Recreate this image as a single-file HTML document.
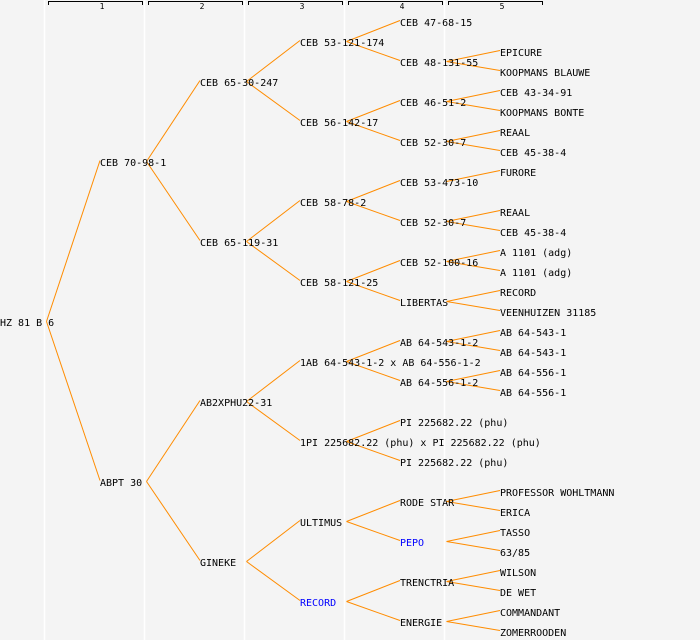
<!DOCTYPE html>
<html><head><meta charset="utf-8"><style>
html,body{margin:0;padding:0;background:#f4f4f4;}
svg{display:block;}
text{font-family:"DejaVu Sans Mono","Liberation Mono",monospace;font-size:10px;fill:#000;}
.h{font-size:8px;}
</style></head><body>
<svg width="700" height="640" viewBox="0 0 700 640" xmlns="http://www.w3.org/2000/svg">
<rect width="700" height="640" fill="#f4f4f4"/>
<g stroke="#ffffff" stroke-width="1.5">
<line x1="44.5" y1="0" x2="44.5" y2="640"/><line x1="144.5" y1="0" x2="144.5" y2="640"/><line x1="244.5" y1="0" x2="244.5" y2="640"/><line x1="344.5" y1="0" x2="344.5" y2="640"/><line x1="444.5" y1="0" x2="444.5" y2="640"/>
</g>
<g stroke="#000" fill="none" stroke-width="1">
<path d="M48.5,5V1.5H142.5V5"/><path d="M148.5,5V1.5H242.5V5"/><path d="M248.5,5V1.5H342.5V5"/><path d="M348.5,5V1.5H442.5V5"/><path d="M448.5,5V1.5H542.5V5"/>
</g>
<g class="h" text-anchor="middle"><text class="h" x="102" y="9">1</text><text class="h" x="202" y="9">2</text><text class="h" x="302" y="9">3</text><text class="h" x="402" y="9">4</text><text class="h" x="502" y="9">5</text></g>
<g id="lines" stroke="#ff8c00" stroke-width="1" fill="none"></g>
<g id="txt"></g>
</svg>
<script>
var N=[
[0,322,"HZ 81 B 6",[[1,162],[1,482]]],
[1,162,"CEB 70-98-1",[[2,82],[2,242]]],
[1,482,"ABPT 30",[[2,402],[2,562]]],
[2,82,"CEB 65-30-247",[[3,42],[3,122]]],
[2,242,"CEB 65-119-31",[[3,202],[3,282]]],
[2,402,"AB2XPHU22-31",[[3,362],[3,442]]],
[2,562,"GINEKE",[[3,522],[3,602]]],
[3,42,"CEB 53-121-174",[[4,22],[4,62]]],
[3,122,"CEB 56-142-17",[[4,102],[4,142]]],
[3,202,"CEB 58-78-2",[[4,182],[4,222]]],
[3,282,"CEB 58-121-25",[[4,262],[4,302]]],
[3,362,"1AB 64-543-1-2 x AB 64-556-1-2",[[4,342],[4,382]]],
[3,442,"1PI 225682.22 (phu) x PI 225682.22 (phu)",[[4,422],[4,462]]],
[3,522,"ULTIMUS",[[4,502],[4,542]]],
[3,602,"RECORD",[[4,582],[4,622]],1],
[4,22,"CEB 47-68-15",[]],
[4,62,"CEB 48-131-55",[[5,52],[5,72]]],
[4,102,"CEB 46-51-2",[[5,92],[5,112]]],
[4,142,"CEB 52-30-7",[[5,132],[5,152]]],
[4,182,"CEB 53-473-10",[[5,172]]],
[4,222,"CEB 52-30-7",[[5,212],[5,232]]],
[4,262,"CEB 52-100-16",[[5,252],[5,272]]],
[4,302,"LIBERTAS",[[5,292],[5,312]]],
[4,342,"AB 64-543-1-2",[[5,332],[5,352]]],
[4,382,"AB 64-556-1-2",[[5,372],[5,392]]],
[4,422,"PI 225682.22 (phu)",[]],
[4,462,"PI 225682.22 (phu)",[]],
[4,502,"RODE STAR",[[5,492],[5,512]]],
[4,542,"PEPO",[[5,532],[5,552]],1],
[4,582,"TRENCTRIA",[[5,572],[5,592]]],
[4,622,"ENERGIE",[[5,612],[5,632]]]
];
var L=[[52,"EPICURE"],[72,"KOOPMANS BLAUWE"],[92,"CEB 43-34-91"],[112,"KOOPMANS BONTE"],[132,"REAAL"],[152,"CEB 45-38-4"],[172,"FURORE"],[212,"REAAL"],[232,"CEB 45-38-4"],[252,"A 1101 (adg)"],[272,"A 1101 (adg)"],[292,"RECORD"],[312,"VEENHUIZEN 31185"],[332,"AB 64-543-1"],[352,"AB 64-543-1"],[372,"AB 64-556-1"],[392,"AB 64-556-1"],[492,"PROFESSOR WOHLTMANN"],[512,"ERICA"],[532,"TASSO"],[552,"63/85"],[572,"WILSON"],[592,"DE WET"],[612,"COMMANDANT"],[632,"ZOMERROODEN"]];
var ns="http://www.w3.org/2000/svg",lg=document.getElementById("lines"),tg=document.getElementById("txt");
function t(x,y,s,b){var e=document.createElementNS(ns,"text");e.setAttribute("x",x);e.setAttribute("y",y+4);if(b)e.setAttribute("style","fill:#0000ff");e.textContent=s;tg.appendChild(e);}
N.forEach(function(n){var c=n[0],y=n[1];t(c*100,y,n[2],n[4]);n[3].forEach(function(k){var l=document.createElementNS(ns,"line");l.setAttribute("x1",c*100+46.5);l.setAttribute("y1",y-0.5);l.setAttribute("x2",k[0]*100);l.setAttribute("y2",k[1]-1.5);lg.appendChild(l);});});
L.forEach(function(a){t(500,a[0],a[1]);});
</script>
</body></html>
